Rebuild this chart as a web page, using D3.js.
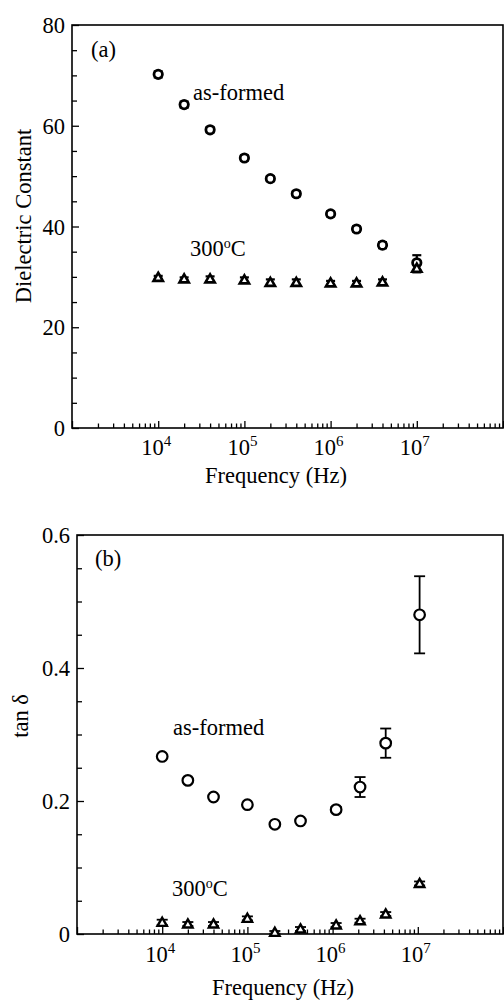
<!DOCTYPE html>
<html><head><meta charset="utf-8">
<script src="https://cdn.jsdelivr.net/npm/d3@7"></script>
<style>body{margin:0;background:#fff}svg{display:block}text{font-family:"Liberation Serif","Times New Roman",serif !important;fill:#000}</style>
</head><body>
<svg id="c" width="504" height="1000"></svg>
<script>
// ---- data ----
const freqA = [1e4,2e4,4e4,1e5,2e5,4e5,1e6,2e6,4e6,1e7];
const epsAsFormed = [70.2,64.2,59.2,53.6,49.5,46.5,42.5,39.5,36.3,32.8];
const epsAsFormedErr = [0.6,0.6,0.5,0.5,0.5,0.5,0.5,0.5,0.6,1.5];
const eps300 = [29.9,29.6,29.6,29.4,28.9,28.9,28.8,28.8,29.0,31.7];
const eps300Err = [0.3,0.3,0.5,0.5,0.6,0.6,0.4,0.4,0.5,0.8];

const freqB = [1e4,2e4,4e4,1e5,2.1e5,4.2e5,1.1e6,2.1e6,4.2e6,1.05e7];
const tanAsFormed = [0.267,0.231,0.206,0.1945,0.165,0.170,0.187,0.221,0.287,0.48];
const tanAsFormedErr = [0,0,0,0,0,0,0.004,0.015,0.022,0.058];
const tan300 = [0.0175,0.015,0.015,0.0235,0.0025,0.0075,0.0135,0.02,0.03,0.076];
const tan300Err = [0.004,0.003,0.003,0.003,0.002,0.003,0.003,0.003,0.003,0.003];

const xMajor = [1e3,1e4,1e5,1e6,1e7,1e8];
const xLabelExp = [4,5,6,7];
const yTicksA = [0,20,40,60,80];
const yTicksB = [0,0.2,0.4,0.6];

const svg = d3.select("#c");
const FS = 22.5;

function panel(cfg){
  const g = svg.append("g");
  const x = d3.scaleLog().domain([1e3,1e8]).range([cfg.left,503]);
  const y = d3.scaleLinear().domain([0,cfg.ymax]).range([cfg.bottom,cfg.top]);

  const minor = [];
  for (let e=3;e<8;e++) for (let m=2;m<=9;m++) minor.push(m*Math.pow(10,e));
  const gxm = g.append("g").attr("transform",`translate(0,${cfg.bottom})`)
    .call(d3.axisBottom(x).tickValues(minor).tickSize(-4.5).tickFormat(""));
  const gx = g.append("g").attr("transform",`translate(0,${cfg.bottom})`)
    .call(d3.axisBottom(x).tickValues(xMajor).tickSize(-7).tickFormat(""));
  [gxm,gx].forEach(a=>{a.select(".domain").remove(); a.selectAll("line").attr("stroke","#000").attr("stroke-width",1.3);});

  xLabelExp.forEach(e=>{
    const t = g.append("text").attr("x",x(Math.pow(10,e))-2).attr("y",cfg.bottom+cfg.labOff)
      .attr("text-anchor","middle").style("font-size",FS+"px");
    t.append("tspan").text("10");
    t.append("tspan").attr("dy",-9).style("font-size","15px").text(e);
  });

  const yMinor = d3.range(0,cfg.ymax+1e-9,cfg.ymin).filter(v=>!cfg.yTicks.some(t=>Math.abs(t-v)<1e-9));
  const gym = g.append("g").attr("transform",`translate(${cfg.left},0)`)
    .call(d3.axisLeft(y).tickValues(yMinor).tickSize(-5).tickFormat(""));
  const gy = g.append("g").attr("transform",`translate(${cfg.left},0)`)
    .call(d3.axisLeft(y).tickValues(cfg.yTicks).tickSize(-7).tickPadding(7).tickFormat(cfg.yFmt));
  [gym,gy].forEach(a=>{a.select(".domain").remove(); a.selectAll("line").attr("stroke","#000").attr("stroke-width",1.3);});
  gy.selectAll("text").style("font-size",FS+"px").attr("fill","#000").attr("x",-7).attr("dy","0.34em");

  g.append("rect").attr("x",cfg.left).attr("y",cfg.top).attr("width",503-cfg.left).attr("height",cfg.bottom-cfg.top)
    .attr("fill","none").attr("stroke","#000").attr("stroke-width",1.6);

  function errs(fr, vals, er){
    const eg = g.append("g").attr("stroke","#000").attr("stroke-width",cfg.ew);
    fr.forEach((f,i)=>{
      if(!er[i]) return;
      const xx = x(f), y1 = y(vals[i]-er[i]), y2 = y(vals[i]+er[i]);
      eg.append("line").attr("x1",xx).attr("x2",xx).attr("y1",y1).attr("y2",y2);
      eg.append("line").attr("x1",xx-cfg.cap).attr("x2",xx+cfg.cap).attr("y1",y1).attr("y2",y1);
      eg.append("line").attr("x1",xx-cfg.cap).attr("x2",xx+cfg.cap).attr("y1",y2).attr("y2",y2);
    });
  }
  errs(cfg.freq, cfg.s1, cfg.e1);
  errs(cfg.freq, cfg.s2, cfg.e2);
  g.append("g").selectAll("circle").data(cfg.s1).join("circle")
    .attr("cx",(d,i)=>x(cfg.freq[i])).attr("cy",d=>y(d)).attr("r",cfg.r)
    .attr("fill","#fff").attr("stroke","#000").attr("stroke-width",cfg.sw);
  const tri = d3.symbol().type(d3.symbolTriangle).size(cfg.tri);
  g.append("g").selectAll("path").data(cfg.s2).join("path")
    .attr("d",tri).attr("transform",(d,i)=>`translate(${x(cfg.freq[i])},${y(d)+0.8})`)
    .attr("fill","#fff").attr("stroke","#000").attr("stroke-width",cfg.tsw);

  g.append("text").attr("x",cfg.panelLab[0]).attr("y",cfg.panelLab[1]).style("font-size",FS+"px").text(cfg.panelLabText);
  g.append("text").attr("x",cfg.af[0]).attr("y",cfg.af[1]).style("font-size",FS+"px").text("as-formed");
  const t3 = g.append("text").attr("x",cfg.t300[0]).attr("y",cfg.t300[1]).style("font-size",FS+"px");
  t3.append("tspan").text("300");
  t3.append("tspan").attr("dy",-8).style("font-size","14px").text("o");
  t3.append("tspan").attr("dy",8).text("C");
  g.append("text").attr("x",cfg.xt[0]).attr("y",cfg.xt[1]).attr("text-anchor","middle").style("font-size",FS+"px").text("Frequency (Hz)");
  g.append("text").attr("transform",`translate(${cfg.yt[0]},${cfg.yt[1]}) rotate(-90)`).attr("text-anchor","middle")
    .style("font-size",FS+"px").text(cfg.ytText);
}

panel({left:72, top:25, bottom:428, ymax:80, ymin:5, yTicks:yTicksA, yFmt:d3.format("d"),
  freq:freqA, s1:epsAsFormed, e1:epsAsFormedErr, s2:eps300, e2:eps300Err,
  r:4.2, sw:2.8, tsw:2.6, ew:2.2, cap:4.5, tri:38, labOff:27,
  panelLab:[91,57], panelLabText:"(a)", af:[193,100], t300:[190,256],
  xt:[276,483], yt:[31,216], ytText:"Dielectric Constant"});

panel({left:77, top:535, bottom:934, ymax:0.6, ymin:0.05, yTicks:yTicksB, yFmt:d=>d===0?"0":d3.format(".1f")(d),
  freq:freqB, s1:tanAsFormed, e1:tanAsFormedErr, s2:tan300, e2:tan300Err,
  r:5.3, sw:2.2, tsw:2.4, ew:1.8, cap:5.5, tri:38, labOff:28,
  panelLab:[95,566], panelLabText:"(b)", af:[173,735], t300:[172,896],
  xt:[283,995], yt:[28,716], ytText:"tan δ"});
</script>
</body></html>
